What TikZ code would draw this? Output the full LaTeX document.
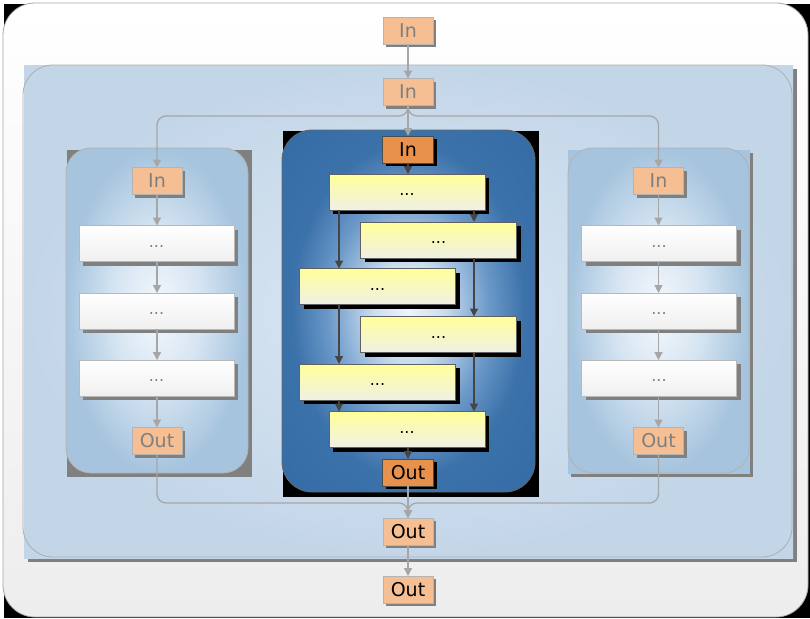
\documentclass[tikz,border=0pt]{standalone}
\usepackage{fontspec}
\setmainfont{DejaVu Sans}
\usetikzlibrary{arrows.meta,shadows,calc}

\definecolor{peach}{HTML}{F5BF93}
\definecolor{peachline}{HTML}{B4B4B4}
\definecolor{deeporange}{HTML}{E8914C}
\definecolor{wire}{HTML}{A6A6A6}
\definecolor{darkwire}{HTML}{454545}
\definecolor{labelgrey}{HTML}{7F7F7F}
\definecolor{yellowtop}{HTML}{FFFF99}
\definecolor{yellowbot}{HTML}{F0F0E6}
\definecolor{sideedge}{HTML}{A6C4DE}

% soft glow used for the wide background panel
\pgfdeclareradialshading{midglow}{\pgfpoint{0bp}{0bp}}{%
  color(0bp)=(rgb,255:red,218;green,231;blue,243);
  color(25bp)=(rgb,255:red,195;green,214;blue,232);
  color(50bp)=(rgb,255:red,195;green,214;blue,232)}
% glow for the two side panels
\pgfdeclareradialshading{sideglow}{\pgfpoint{0bp}{0bp}}{%
  color(0bp)=(rgb,255:red,244;green,248;blue,252);
  color(12bp)=(rgb,255:red,214;green,229;blue,242);
  color(25bp)=(rgb,255:red,166;green,196;blue,222);
  color(50bp)=(rgb,255:red,166;green,196;blue,222)}
% deep blue glow for the central panel
\pgfdeclareradialshading{coreglow}{\pgfpoint{0bp}{0bp}}{%
  color(0bp)=(rgb,255:red,238;green,244;blue,250);
  color(7bp)=(rgb,255:red,201;green,221;blue,240);
  color(16bp)=(rgb,255:red,106;green,152;blue,200);
  color(23bp)=(rgb,255:red,60;green,114;blue,170);
  color(50bp)=(rgb,255:red,46;green,100;blue,160)}

\begin{document}
\begin{tikzpicture}[x=1pt,y=-1pt,
  every node/.style={inner sep=0pt, outer sep=0pt},
  peachbox/.style={draw=peachline, fill=peach, line width=0.8pt,
    minimum width=50pt, minimum height=27pt,
    font=\fontsize{19}{22}\selectfont,
    drop shadow={shadow xshift=3pt, shadow yshift=-3pt, fill=black!50, opacity=1}},
  dimtext/.style={text=labelgrey},
  corebox/.style={draw=black!70, fill=deeporange, line width=0.8pt,
    minimum width=51pt, minimum height=27pt,
    font=\fontsize{19}{22}\selectfont,
    drop shadow={shadow xshift=3pt, shadow yshift=-3pt, fill=black, opacity=1}},
  greystep/.style={draw=black!28, top color=white, bottom color=black!6,
    line width=0.8pt, minimum width=155pt, minimum height=36pt,
    text=labelgrey, font=\fontsize{16}{18}\selectfont,
    drop shadow={shadow xshift=4pt, shadow yshift=-4pt, fill=black!50, opacity=1}},
  yellowstep/.style={draw=black!62, top color=yellowtop, bottom color=yellowbot,
    line width=0.8pt, minimum width=156pt, minimum height=36pt,
    text=black, font=\fontsize{16}{18}\selectfont,
    drop shadow={shadow xshift=4pt, shadow yshift=-4pt, fill=black, opacity=1}},
  wirearrow/.style={draw=wire, line width=1.3pt, -{Triangle[length=8pt,width=8pt]}},
  darkarrow/.style={draw=darkwire, line width=1.3pt, -{Triangle[length=8pt,width=8pt]}},
  panelline/.style={line width=0.8pt},
]
\useasboundingbox (0,0) rectangle (810,618);

% outer frame
\fill[white] (0,0) rectangle (810,618);
\fill[black] (4,4) rectangle (810,618);
\path[shade, top color=white, bottom color=black!7, draw=black!35, panelline,
      rounded corners=32pt] (3,3) rectangle (808,617);

% wide background panel
\fill[black!50] (28,69) rectangle (797,562);
\path[shade, shading=midglow] (24,65) rectangle (793,558);
\draw[black!32, panelline, rounded corners=30pt] (23,65) rectangle (792,557);

% left panel
\fill[black!50] (67,150) rectangle (252,477);
\path[shade, shading=sideglow, draw=black!30, panelline, rounded corners=25pt]
  (66,148) rectangle (248,473);

% right panel
\fill[black!50] (571,153) rectangle (753,477);
\fill[sideedge] (568,150) rectangle (750,474);
\path[shade, shading=sideglow, draw=black!30, panelline, rounded corners=25pt]
  (568,148) rectangle (749,473);

% central panel
\fill[black] (283,131) rectangle (539,497);
\path[shade, shading=coreglow, draw=black!60, panelline, rounded corners=30pt]
  (282,130) rectangle (535,492);

% outer chain
\node[peachbox, dimtext] (inTop) at (408,31) {In};
\node[peachbox, dimtext] (inMid) at (408,92) {In};
\node[peachbox] (outMid) at (408,531.5) {Out};
\node[peachbox] (outBot) at (408,589.5) {Out};

% left column
\node[peachbox, dimtext] (inL) at (157,181) {In};
\node[greystep] (lA) at (156.5,243.5) {...\strut};
\node[greystep] (lB) at (156.5,311) {...\strut};
\node[greystep] (lC) at (156.5,378) {...\strut};
\node[peachbox, dimtext] (outL) at (157,441) {Out};

% right column
\node[peachbox, dimtext] (inR) at (658.5,181) {In};
\node[greystep] (rA) at (659,243.5) {...\strut};
\node[greystep] (rB) at (659,311) {...\strut};
\node[greystep] (rC) at (659,378) {...\strut};
\node[peachbox, dimtext] (outR) at (658.5,441) {Out};

% central column
\node[corebox] (inC) at (408,149.5) {In};
\node[yellowstep] (y1) at (407,192) {...\strut};
\node[yellowstep] (y2) at (438.5,240) {...\strut};
\node[yellowstep] (y3) at (377.5,286.5) {...\strut};
\node[yellowstep] (y4) at (438.5,334.5) {...\strut};
\node[yellowstep] (y5) at (377.5,382) {...\strut};
\node[yellowstep] (y6) at (407,429.5) {...\strut};
\node[corebox] (outC) at (408,472.5) {Out};

% lanes and junctions
\coordinate (laneA) at (339,0);
\coordinate (laneB) at (474,0);
\coordinate (fork) at (408,116);
\coordinate (join) at (408,503);

% grey connectors
\draw[wirearrow] (inTop) -- (inMid);
\draw[wirearrow] (inMid) -- (inC);
\draw[wirearrow, rounded corners=9pt] (inMid.south) -- (fork) -| (inL.north);
\draw[wirearrow, rounded corners=9pt] (inMid.south) -- (fork) -| (inR.north);
\draw[wirearrow] (inL) -- (lA.north -| inL);
\draw[wirearrow] (lA.south -| inL) -- (lB.north -| inL);
\draw[wirearrow] (lB.south -| inL) -- (lC.north -| inL);
\draw[wirearrow] (lC.south -| inL) -- (outL);
\draw[wirearrow] (inR) -- (rA.north -| inR);
\draw[wirearrow] (rA.south -| inR) -- (rB.north -| inR);
\draw[wirearrow] (rB.south -| inR) -- (rC.north -| inR);
\draw[wirearrow] (rC.south -| inR) -- (outR);
\draw[wirearrow, rounded corners=9pt] (outL.south) |- (join) -- (outMid.north);
\draw[wirearrow, rounded corners=9pt] (outR.south) |- (join) -- (outMid.north);
\draw[wirearrow] (outC) -- (outMid);
\draw[wirearrow] (outMid) -- (outBot);

% dark connectors inside the central panel
\draw[darkarrow] (inC.south) -- (y1.north -| inC);
\draw[darkarrow] (y1.south -| laneA) -- (y3.north -| laneA);
\draw[darkarrow] (y1.south -| laneB) -- (y2.north -| laneB);
\draw[darkarrow] (y2.south -| laneB) -- (y4.north -| laneB);
\draw[darkarrow] (y3.south -| laneA) -- (y5.north -| laneA);
\draw[darkarrow] (y4.south -| laneB) -- (y6.north -| laneB);
\draw[darkarrow] (y5.south -| laneA) -- (y6.north -| laneA);
\draw[darkarrow] (y6.south -| outC) -- (outC.north);
\end{tikzpicture}
\end{document}
